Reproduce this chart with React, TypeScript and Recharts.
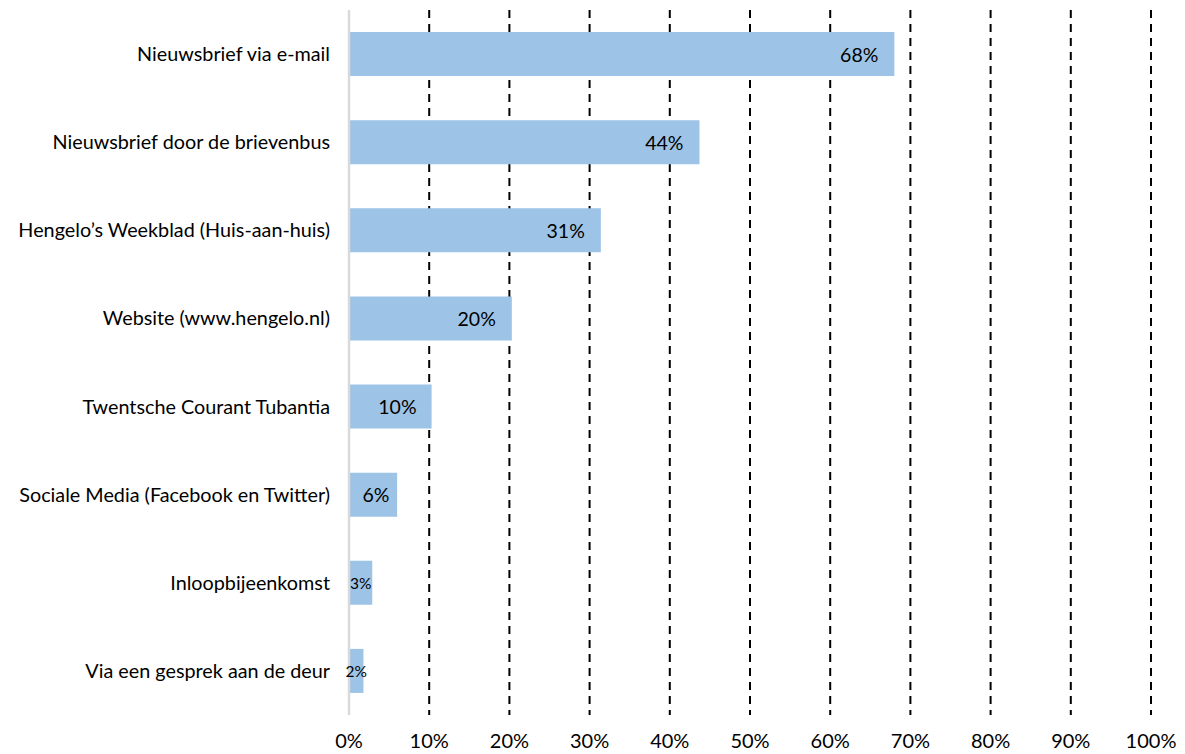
import React from 'react';
import { BarChart, Bar, XAxis, YAxis, CartesianGrid, LabelList } from 'recharts';

const categories = [
  'Nieuwsbrief via e-mail',
  'Nieuwsbrief door de brievenbus',
  'Hengelo’s Weekblad (Huis-aan-huis)',
  'Website (www.hengelo.nl)',
  'Twentsche Courant Tubantia',
  'Sociale Media (Facebook en Twitter)',
  'Inloopbijeenkomst',
  'Via een gesprek aan de deur',
];
const values = [68.0, 43.7, 31.4, 20.3, 10.3, 6.0, 2.9, 1.8];
const xTicks = [0, 10, 20, 30, 40, 50, 60, 70, 80, 90, 100];

const data = categories.map((c, i) => ({ name: c, value: values[i] }));

const FONT = 'Lato, "Liberation Sans", sans-serif';

const renderLabel = (props: any) => {
  const { x, y, width, height, value } = props;
  const txt = `${Math.round(value)}%`;
  const cy = y + height / 2;
  if (value < 5) {
    return (
      <text x={x + width / 2} y={cy} textAnchor="middle" dominantBaseline="central" fontSize={15.5} fill="#000" fontFamily={FONT}>
        {txt}
      </text>
    );
  }
  const tw = txt.length * 12.3;
  const off = Math.min(16, Math.max(0, (width - tw) * 0.33));
  return (
    <text x={x + width - off} y={cy} textAnchor="end" dominantBaseline="central" fontSize={19.5} fill="#000" fontFamily={FONT}>
      {txt}
    </text>
  );
};

export default function App() {
  return (
    <div style={{ width: 1177, height: 746, background: '#fff' }}>
      <BarChart
        width={1177}
        height={746}
        data={data}
        layout="vertical"
        margin={{ top: 2, right: 34, bottom: 0, left: 0 }}
        barCategoryGap="25%"
      >
        <CartesianGrid horizontal={false} vertical stroke="#000" strokeWidth={2} strokeDasharray="8 6" />
        <XAxis
          type="number"
          domain={[0, 100]}
          ticks={xTicks}
          tickFormatter={(v: number) => `${v}%`}
          axisLine={false}
          tickLine={false}
          height={39}
          tickMargin={13}
          interval={0}
          tick={{ fontSize: 20, fill: '#000', fontFamily: FONT }}
        />
        <YAxis
          type="category"
          dataKey="name"
          width={341}
          axisLine={{ stroke: '#d9d9d9', strokeWidth: 2.5 }}
          tickLine={false}
          tickMargin={13}
          interval={0}
          tick={{ fontSize: 19.8, fill: '#000', fontFamily: FONT }}
        />
        <Bar dataKey="value" fill="#9dc3e6" isAnimationActive={false}>
          <LabelList dataKey="value" content={renderLabel} />
        </Bar>
      </BarChart>
    </div>
  );
}
